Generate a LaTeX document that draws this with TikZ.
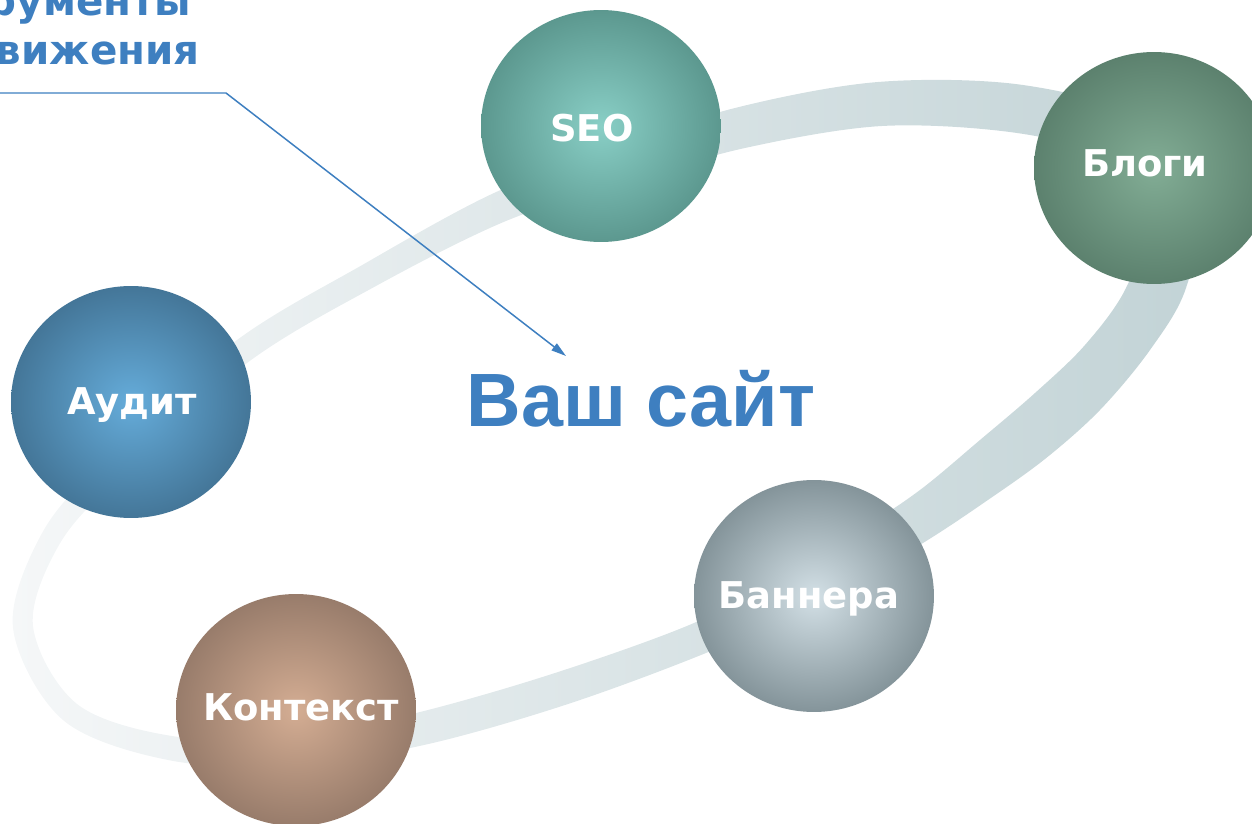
\documentclass[tikz,border=0pt]{standalone}
\usepackage{fontspec}
\setmainfont{DejaVu Sans}
\newfontfamily\arialfont{Liberation Sans}
\usetikzlibrary{arrows.meta,shapes.geometric}
\definecolor{ttl}{HTML}{3E7FC0}
\definecolor{ringL}{HTML}{F5F7F8}
\definecolor{ringR}{HTML}{C2D3D6}
\definecolor{seoIn}{HTML}{89CFC6}
\definecolor{seoOut}{HTML}{5C988F}
\definecolor{blgIn}{HTML}{82AD95}
\definecolor{blgOut}{HTML}{5C816E}
\definecolor{audIn}{HTML}{65ACDA}
\definecolor{audOut}{HTML}{447698}
\definecolor{banIn}{HTML}{D3E0E6}
\definecolor{banOut}{HTML}{84949A}
\definecolor{kntIn}{HTML}{D4AD93}
\definecolor{kntOut}{HTML}{987C6B}
\begin{document}
\begin{tikzpicture}[x=0.02cm,y=-0.02cm,
  ball/.style={ellipse, minimum width=4.8cm, minimum height=4.64cm, inner sep=0pt},
  lbl/.style={text=white, font=\bfseries\fontsize{21}{25}\selectfont, anchor=base, inner sep=0pt},
  ttltext/.style={text=ttl, font=\bfseries\fontsize{23}{28.4}\selectfont, inner sep=0pt},
  link/.style={draw=ttl, line width=0.85pt},
]
\useasboundingbox (0,0) rectangle (1252,824);
\begin{scope}
\clip (0,0) rectangle (1252,824);
% ring band
\shade[even odd rule, left color=ringL, right color=ringR]
  plot[smooth cycle, tension=0.55] coordinates {(13,628) (41,535) (102,462) (233,343) (364,264) (494,193) (614,148) (735,108) (878,82) (1023,85) (1143,120) (1199,200) (1186,288) (1150,350) (1100,410) (1045,459) (985,502) (923,543) (831,597) (706,653) (565,705) (424,745) (291,766) (168,760) (63,720)}
  plot[smooth cycle, tension=0.55] coordinates {(33,626) (59,545) (118,478) (247,363) (376,286) (506,221) (626,182) (745,148) (882,126) (1017,133) (1117,160) (1151,210) (1126,288) (1085,345) (1035,393) (980,440) (920,490) (860,530) (780,576) (694,623) (555,673) (416,713) (289,738) (172,736) (77,704)};
% title and arrow
\node[ttltext, align=left, anchor=base east] (title) at (200,65) {Инструменты\\продвижения};
\coordinate (ustart) at (-20,93);
\coordinate (bend) at (226,93);
\coordinate (tip) at (566,356);
\draw[link, -{Triangle[length=0.3cm, width=0.17cm]}] (ustart) -- (bend) -- (tip);
% circles
\node[ball, inner color=seoIn, outer color=seoOut] (seo) at (601,126) {};
\node[ball, inner color=blgIn, outer color=blgOut] (blogi) at (1154,168) {};
\node[ball, inner color=audIn, outer color=audOut] (audit) at (131,402) {};
\node[ball, inner color=banIn, outer color=banOut] (bannera) at (814,596) {};
\node[ball, inner color=kntIn, outer color=kntOut] (kontekst) at (296,710) {};
% labels
\node[lbl] (seo-t) at (592,142) {SEO};
\node[lbl] (blogi-t) at (1145,177) {Блоги};
\node[lbl] (audit-t) at (132,415) {Аудит};
\node[lbl] (bannera-t) at (809,608) {Баннера};
\node[lbl] (kontekst-t) at (301,720) {Контекст};
% center text
\node[text=ttl, font=\arialfont\bfseries\fontsize{43}{50}\selectfont, anchor=base, inner sep=0pt] (site) at (641,427) {Ваш сайт};
\end{scope}
\end{tikzpicture}
\end{document}
